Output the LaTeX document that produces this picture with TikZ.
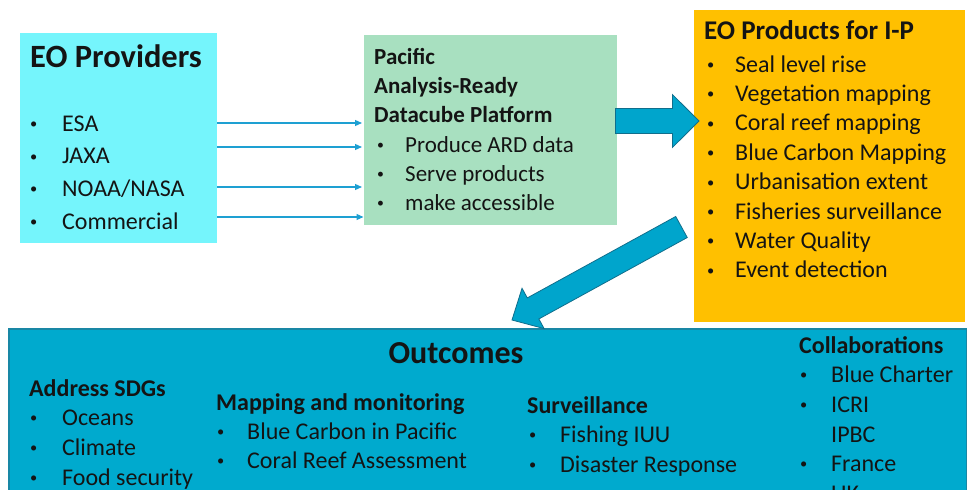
\documentclass[tikz,border=0pt]{standalone}
\usepackage{fontspec}
\setmainfont{Carlito}
\usetikzlibrary{arrows.meta,calc}
\definecolor{provc}{RGB}{117,245,252}
\definecolor{greenc}{RGB}{168,224,192}
\definecolor{orangec}{RGB}{255,192,0}
\definecolor{outc}{RGB}{0,170,206}
\definecolor{outborder}{RGB}{25,135,165}
\definecolor{arrowc}{RGB}{0,165,204}
\definecolor{arrowborder}{RGB}{16,110,140}
\definecolor{thinc}{RGB}{30,160,210}
\definecolor{ink}{RGB}{20,20,20}
\newcommand\bitem[2]{\makebox[#1pt][l]{\raisebox{2.5pt}{\scalebox{0.6}{\textbullet}}}#2}
\newcommand\nobitem[2]{\makebox[#1pt][l]{}#2}
\tikzset{
  boxn/.style={rectangle, draw=none, inner sep=0pt, anchor=north west},
  txt/.style={anchor=base west, inner sep=0pt, text=ink, font=\fontsize{24}{28}\selectfont},
  txtg/.style={txt, font=\fontsize{23}{27}\selectfont},
  txtgb/.style={txt, font=\fontsize{23}{27}\selectfont\bfseries},
  bigtitle/.style={txt, font=\fontsize{32.5}{36}\selectfont\bfseries},
  subtitle/.style={txt, font=\fontsize{24}{28}\selectfont\bfseries},
  thinarrow/.style={draw=thinc, line width=1.2pt, -{Triangle[length=7pt,width=6pt]}, shorten >=2pt},
  fatarrow/.style={fill=arrowc, draw=arrowborder, line width=0.8pt, line join=miter}
}
\begin{document}
\begin{tikzpicture}[x=1pt,y=-1pt]
\useasboundingbox (0,0) rectangle (967,490);
\clip (0,0) rectangle (967,490);
% boxes
\node[boxn, fill=provc, minimum width=197pt, minimum height=210pt] (prov) at (20,33) {};
\node[boxn, fill=greenc, minimum width=253pt, minimum height=190pt] (green) at (364,35) {};
\node[boxn, fill=orangec, minimum width=271pt, minimum height=312pt] (orange) at (694,10) {};
\node[boxn, fill=outc, draw=outborder, line width=1.5pt, minimum width=958pt, minimum height=200pt] (out) at (8,328) {};

% EO providers
\node[bigtitle] (provt) at (30,67) {EO Providers};
\node[txt] (p1) at (30,131) {\bitem{32}{ESA}};
\node[txt] (p2) at (30,163.7) {\bitem{32}{JAXA}};
\node[txt] (p3) at (30,196.4) {\bitem{32}{NOAA/NASA}};
\node[txt] (p4) at (30,229) {\bitem{32}{Commercial}};

% green
\node[txtgb] (g1) at (374,64) {Pacific};
\node[txtgb] (g2) at (374,93) {Analysis-Ready};
\node[txtgb] (g3) at (374,122) {Datacube Platform};
\node[txtg] (g4) at (377,152) {\bitem{28}{Produce ARD data}};
\node[txtg] (g5) at (377,181) {\bitem{28}{Serve products}};
\node[txtg] (g6) at (377,210) {\bitem{28}{make accessible}};

% orange
\node[txt, font=\fontsize{27}{31}\selectfont\bfseries] (ot) at (704,39) {EO Products for I-P};
\node[txt] (o1) at (707,72) {\bitem{28}{Seal level rise}};
\node[txt] (o2) at (707,101.4) {\bitem{28}{Vegetation mapping}};
\node[txt] (o3) at (707,130.8) {\bitem{28}{Coral reef mapping}};
\node[txt] (o4) at (707,160.2) {\bitem{28}{Blue Carbon Mapping}};
\node[txt] (o5) at (707,189.6) {\bitem{28}{Urbanisation extent}};
\node[txt] (o6) at (707,219) {\bitem{28}{Fisheries surveillance}};
\node[txt] (o7) at (707,248.4) {\bitem{28}{Water Quality}};
\node[txt] (o8) at (707,277.8) {\bitem{28}{Event detection}};

% outcomes
\node[txt, anchor=base, font=\fontsize{32}{36}\selectfont\bfseries] (outt) at (456,363) {Outcomes};
\node[subtitle] (sdg) at (29,396) {Address SDGs};
\node[txt] (s1) at (30,425) {\bitem{32}{Oceans}};
\node[txt] (s2) at (30,455) {\bitem{32}{Climate}};
\node[txt] (s3) at (30,485) {\bitem{32}{Food security}};
\node[subtitle] (map) at (216,410) {Mapping and monitoring};
\node[txt] (m1) at (217,439) {\bitem{30}{Blue Carbon in Pacific}};
\node[txt] (m2) at (217,468) {\bitem{30}{Coral Reef Assessment}};
\node[subtitle] (sur) at (527,413) {Surveillance};
\node[txt] (u1) at (529,442) {\bitem{31}{Fishing IUU}};
\node[txt] (u2) at (529,472) {\bitem{31}{Disaster Response}};
\node[subtitle] (col) at (799,353) {Collaborations};
\node[txt] (c1) at (800,382) {\bitem{31}{Blue Charter}};
\node[txt] (c2) at (800,412) {\bitem{31}{ICRI}};
\node[txt] (c3) at (800,442) {\nobitem{31}{IPBC}};
\node[txt] (c4) at (800,471) {\bitem{31}{France}};
\node[txt] (c5) at (800,501) {\bitem{31}{UK}};

% thin arrows
\draw[thinarrow] (prov.east |- {(0,123)}) -- (green.west |- {(0,123)});
\draw[thinarrow] (prov.east |- {(0,147)}) -- (green.west |- {(0,147)});
\draw[thinarrow] (prov.east |- {(0,187)}) -- (green.west |- {(0,187)});
\draw[thinarrow, shorten >=0.5pt] (prov.east |- {(0,217)}) -- (green.west |- {(0,217)});

% big right arrow
\coordinate (rT) at ($(green.east |- {(0,121)})+(-2,0)$);
\coordinate (rP) at ($(orange.west |- {(0,121)})+(5,0)$);
\coordinate (rB) at ($(rT)!57pt!(rP)$);
\draw[fatarrow] ($(rT)!12.5pt!90:(rP)$) -- ($(rB)!12.5pt!90:(rP)$) -- ($(rB)!26.5pt!90:(rP)$) -- (rP)
  -- ($(rB)!26.5pt!-90:(rP)$) -- ($(rB)!12.5pt!-90:(rP)$) -- ($(rT)!12.5pt!-90:(rP)$) -- cycle;

% diagonal arrow
\coordinate (dT) at (681.5,227);
\coordinate (dP) at (512,320);
\coordinate (dB) at ($(dT)!169.3pt!(dP)$);
\draw[fatarrow] ($(dT)!12pt!90:(dP)$) -- ($(dB)!12pt!90:(dP)$) -- ($(dB)!23pt!90:(dP)$) -- (dP)
  -- ($(dB)!23pt!-90:(dP)$) -- ($(dB)!12pt!-90:(dP)$) -- ($(dT)!12pt!-90:(dP)$) -- cycle;
\end{tikzpicture}
\end{document}
